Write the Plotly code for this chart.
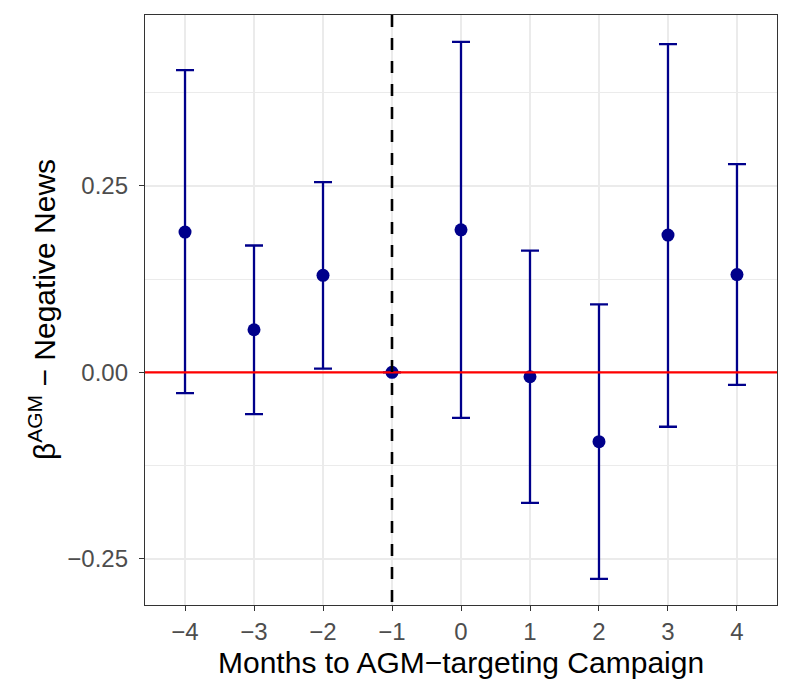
import plotly.graph_objects as go

months = [-4, -3, -2, -1, 0, 1, 2, 3, 4]
estimate = [0.188, 0.057, 0.130, 0.0, 0.191, -0.006, -0.093, 0.184, 0.131]
ci_low = [-0.028, -0.056, 0.005, 0.0, -0.061, -0.175, -0.277, -0.073, -0.017]
ci_high = [0.405, 0.170, 0.255, 0.0, 0.443, 0.163, 0.091, 0.440, 0.279]
y_ticks = [-0.25, 0.0, 0.25]
y_tick_labels = ["\u22120.25", "0.00", "0.25"]
x_tick_labels = ["\u22124", "\u22123", "\u22122", "\u22121", "0", "1", "2", "3", "4"]
event_month = -1

err_plus = [h - e for h, e in zip(ci_high, estimate)]
err_minus = [e - l for e, l in zip(estimate, ci_low)]
# no interval drawn for the reference month
err_plus = [None if m == event_month else v for m, v in zip(months, err_plus)]
err_minus = [None if m == event_month else v for m, v in zip(months, err_minus)]

navy = "#00008B"
font_family = "Liberation Sans, Arial, Helvetica, sans-serif"

fig = go.Figure()
fig.add_trace(go.Scatter(
    x=months, y=estimate, mode="markers",
    marker=dict(color=navy, size=13),
    error_y=dict(type="data", symmetric=False, array=err_plus, arrayminus=err_minus,
                 color=navy, thickness=2.3, width=9),
    showlegend=False,
))

fig.add_shape(type="line", xref="paper", yref="y", x0=0, x1=1, y0=0, y1=0,
              line=dict(color="#FF0000", width=2.2), layer="above")
fig.add_shape(type="line", xref="x", yref="paper", x0=event_month, x1=event_month, y0=1, y1=0,
              line=dict(color="black", width=2.6, dash="12px,11px"), layer="above")

fig.update_layout(
    width=785, height=686,
    margin=dict(l=137, r=16, t=7, b=89),
    paper_bgcolor="white", plot_bgcolor="white",
    font=dict(family=font_family, color="#4D4D4D", size=24),
)
fig.update_xaxes(
    range=[-4.58, 4.58], tickvals=months, ticktext=x_tick_labels,
    showgrid=True, gridcolor="#EBEBEB", gridwidth=2, zeroline=False,
    ticks="outside", ticklen=5, tickwidth=1.3, tickcolor="#333333",
    tickfont=dict(size=24, color="#4D4D4D", family=font_family),
    showline=True, linecolor="#333333", linewidth=1.3, mirror=True,
    automargin=False, ticklabelstandoff=0,
)
fig.update_yaxes(
    range=[-0.312, 0.479], tickvals=y_ticks, ticktext=y_tick_labels,
    showgrid=True, gridcolor="#EBEBEB", gridwidth=2, zeroline=False,
    minor=dict(tickvals=[-0.125, 0.125, 0.375], showgrid=True, gridcolor="#EBEBEB", gridwidth=1.4, ticks=""),
    ticks="outside", ticklen=5, tickwidth=1.3, tickcolor="#333333",
    tickfont=dict(size=24, color="#4D4D4D", family=font_family),
    showline=True, linecolor="#333333", linewidth=1.3, mirror=True,
    automargin=False, ticklabelstandoff=6,
)

fig.add_annotation(
    text="Months to AGM\u2212targeting Campaign", xref="paper", yref="paper",
    x=0.5, y=-0.0, yshift=-57, xanchor="center", yanchor="middle", showarrow=False,
    font=dict(size=30, color="black", family=font_family),
)
fig.add_annotation(
    text="\u03b2<sup>AGM</sup> \u2212 Negative News", xref="paper", yref="paper",
    x=0, y=0.5, xshift=-103, xanchor="center", yanchor="middle", textangle=-90, showarrow=False,
    font=dict(size=30, color="black", family=font_family),
)

fig.write_html("out.html")
